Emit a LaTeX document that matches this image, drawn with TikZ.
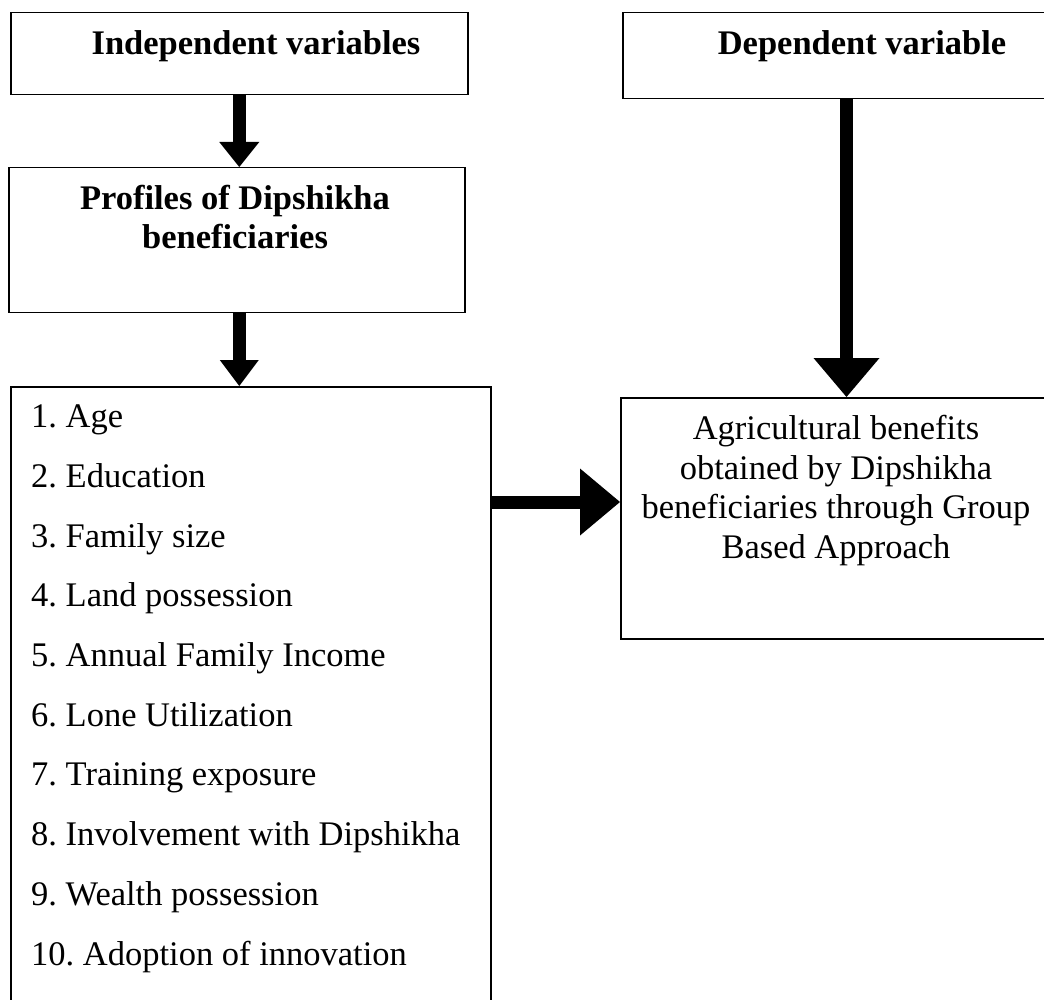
\documentclass[tikz,border=0pt]{standalone}
\usepackage{fontspec}
\setmainfont{Liberation Serif}
\usetikzlibrary{arrows.meta}
\frenchspacing
\begin{document}
\begin{tikzpicture}[x=1pt,y=-1pt,
  box/.style={draw, line width=1.5pt, inner sep=0pt, anchor=north west},
  txt/.style={inner sep=0pt, font=\fontsize{34.5}{39.5}\selectfont},
  btxt/.style={inner sep=0pt, font=\fontsize{34.5}{39}\selectfont\bfseries},
  listtxt/.style={inner sep=0pt, align=left, font=\fontsize{34.5}{59.7}\selectfont\frenchspacing},
  blockarrow/.style 2 args={line width=13pt, -{Triangle[length=#1pt, width=#2pt, line width=0pt]}}
]
\clip (0,0) rectangle (1044,1000);
% boxes
\node[box, minimum width=457pt, minimum height=82pt] (indep) at (10,12) {};
\node[box, minimum width=456pt, minimum height=145pt] (prof) at (8,167) {};
\node[box, minimum width=480pt, minimum height=630pt] (list) at (10,386) {};
\node[box, minimum width=430pt, minimum height=86pt] (dep) at (622,12) {};
\node[box, minimum width=432pt, minimum height=241pt] (agri) at (620,397) {};
% texts (multi-line nodes are placed by the baseline of their last line)
\node[btxt, anchor=base] (indeptxt) at (256,55) {Independent variables};
\node[btxt, anchor=base] (deptxt) at (862,55) {Dependent variable};
\node[btxt, align=center, anchor=base] (proftxt) at (235,249) {Profiles of Dipshikha\\beneficiaries};
\node[txt, align=center, anchor=base] (agritxt) at (836,558) {Agricultural benefits\\obtained by Dipshikha\\beneficiaries through Group\\Based Approach};
\node[listtxt, anchor=base west] (listtxt) at (31,965) {1. Age\\2. Education\\3. Family size\\4. Land possession\\5. Annual Family Income\\6. Lone Utilization\\7. Training exposure\\8. Involvement with Dipshikha\\9. Wealth possession\\10. Adoption of innovation};
% connectors
\coordinate (dtop) at ([xshift=224.5pt]dep.south west);
\coordinate (rmid) at (0,502);
\draw[blockarrow={25}{40}] (indep.south) -- (indep.south |- prof.north);
\draw[blockarrow={26}{39}] (indep.south |- prof.south) -- (indep.south |- list.north);
\draw[blockarrow={39}{66}] (dtop) -- (dtop |- agri.north);
\draw[blockarrow={40}{67}] (list.east |- rmid) -- (agri.west |- rmid);
\end{tikzpicture}
\end{document}
